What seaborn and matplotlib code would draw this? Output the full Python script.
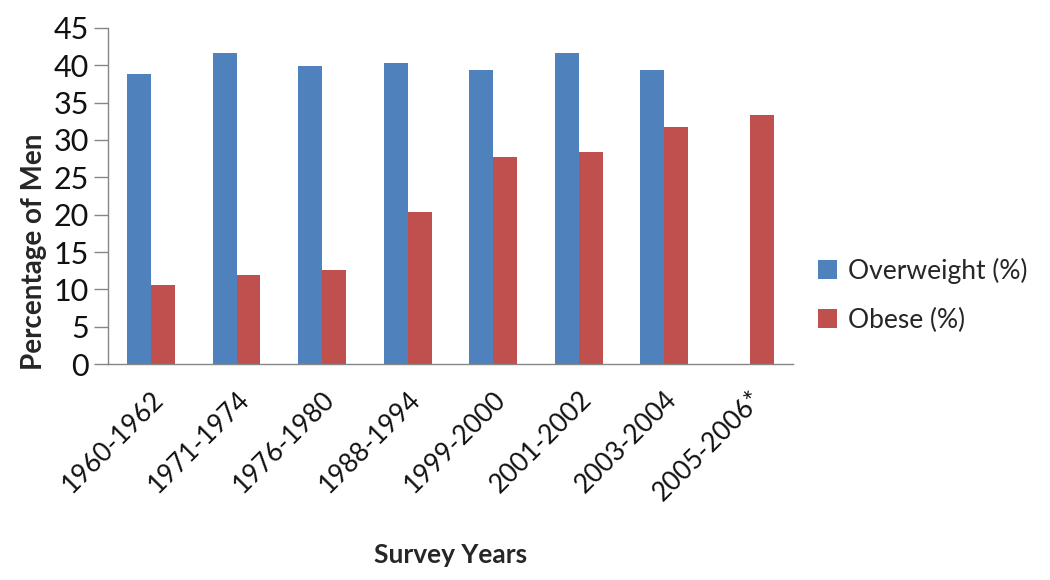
import matplotlib
matplotlib.use("Agg")
import matplotlib.pyplot as plt
import seaborn as sns
import pandas as pd
import numpy as np
from matplotlib.patches import Patch

categories = ["1960-1962", "1971-1974", "1976-1980", "1988-1994",
              "1999-2000", "2001-2002", "2003-2004", "2005-2006*"]
overweight = [38.8, 41.7, 39.9, 40.3, 39.3, 41.6, 39.4, np.nan]
obese = [10.6, 11.9, 12.6, 20.4, 27.7, 28.4, 31.7, 33.3]
series = ["Overweight (%)", "Obese (%)"]
colors = ["#4F81BD", "#C0504D"]
yticks = [0, 5, 10, 15, 20, 25, 30, 35, 40, 45]

sns.set_theme(style="white")
plt.rcParams['font.family'] = ['Lato', 'DejaVu Sans']

df = pd.DataFrame({
    "Survey": categories * 2,
    "Series": [series[0]] * len(categories) + [series[1]] * len(categories),
    "Value": overweight + obese,
})

fig = plt.figure(figsize=(10.5, 5.8), dpi=100)
ax = fig.add_axes([0.103, 0.372, 0.652, 0.58])

sns.barplot(data=df, x="Survey", y="Value", hue="Series", order=categories,
            hue_order=series, palette=colors, width=0.56, saturation=1,
            dodge=True, ax=ax, legend=False, errorbar=None, linewidth=0)

ax.set_xlim(-0.5, len(categories) - 0.5)
ax.set_ylim(0, 45)
ax.set_yticks(yticks)
ax.set_yticklabels([str(v) for v in yticks], fontsize=22, color="#111111")
ax.set_xticks(range(len(categories)))
ax.set_xticklabels(categories, rotation=45, ha="right", rotation_mode="anchor",
                   fontsize=19, color="#111111")
ax.set_xticks(np.arange(-0.5, len(categories), 1), minor=True)
ax.tick_params(axis="x", which="major", length=0, pad=16)
ax.tick_params(axis="x", which="minor", length=10, width=1, color="#868686", direction="out")
ax.tick_params(axis="y", length=10, width=1, color="#868686", direction="out", left=True, pad=4)

for s in ["top", "right"]:
    ax.spines[s].set_visible(False)
for s in ["left", "bottom"]:
    ax.spines[s].set_color("#868686")
    ax.spines[s].set_linewidth(1)

ax.set_xlabel("Survey Years", fontsize=19, fontweight="bold", labelpad=27)
ax.set_ylabel("Percentage of Men", fontsize=20, fontweight="bold")
ax.yaxis.set_label_coords(-0.09, 0.333)

handles = [Patch(facecolor=c, edgecolor="none") for c in colors]
fig.legend(handles, series, loc="center left", bbox_to_anchor=(0.756, 0.491),
           frameon=False, fontsize=19, handlelength=0.75, handleheight=0.75,
           handletextpad=0.4, labelspacing=0.9)

fig.savefig("out.png", dpi=100)
